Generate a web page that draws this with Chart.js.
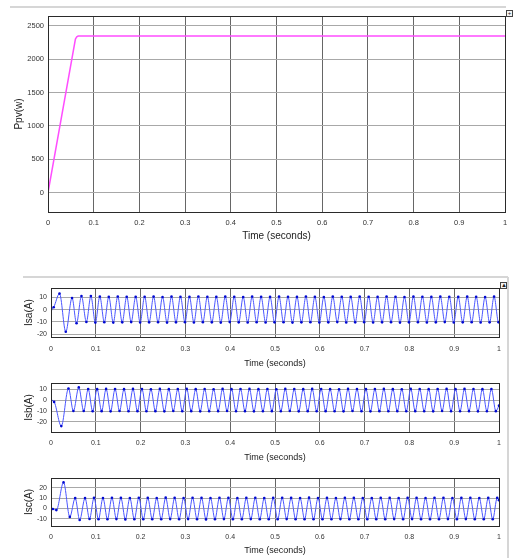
<!DOCTYPE html>
<html>
<head>
<meta charset="utf-8">
<script src="https://cdn.jsdelivr.net/npm/chart.js"></script>
<style>
    body { margin: 0; background: #fff; }
    #page { position: relative; width: 518px; height: 558px; overflow: hidden; background: #fff; }
    canvas { position: absolute; left: 0; }
    .rule { position: absolute; background: #d6d6d6; }
    .btn { position: absolute; width: 5px; height: 5px; border: 1px solid #444; background: #f4f4f4; font: 6px/5px 'Liberation Sans', Arial, sans-serif; text-align: center; color: #222; }
</style>
</head>
<body>
<div id="page">
    <div class="rule" style="left:10px;top:6px;width:496px;height:2px;"></div>
    <div class="btn" style="left:506px;top:10px;">+</div>
    <div class="rule" style="left:23px;top:276px;width:485px;height:2px;"></div>
    <div class="rule" style="left:507px;top:277px;width:2px;height:281px;"></div>
    <div class="btn" style="left:500px;top:282px;">&#9650;</div>

    <canvas id="ppvChart" width="518" height="250" style="top:0px"></canvas>
    <canvas id="isaChart" width="518" height="94" style="top:280px"></canvas>
    <canvas id="isbChart" width="518" height="92" style="top:374px"></canvas>
    <canvas id="iscChart" width="518" height="92" style="top:466px"></canvas>
</div>
<script>
// ---- data ----
const timeTicks = [0, 0.1, 0.2, 0.3, 0.4, 0.5, 0.6, 0.7, 0.8, 0.9, 1];
const timeLabels = ['0', '0.1', '0.2', '0.3', '0.4', '0.5', '0.6', '0.7', '0.8', '0.9', '1'];

const ppvTicks = [0, 500, 1000, 1500, 2000, 2500];
const isaTicks = [-20, -10, 0, 10];
const isbTicks = [-20, -10, 0, 10];
const iscTicks = [-10, 0, 10, 20];

// PV power (W)
const ppvTime = [0, 0.060, 0.063, 0.066, 1];
const ppvVals = [0, 2300, 2335, 2345, 2345];

// phase a current: start-up transient, then one peak / trough every 10 ms
const isaTime = [
    0, 0.006, 0.019, 0.033, 0.047, 0.057, 0.068, 0.079, 0.089, 0.099,
    0.109, 0.119, 0.129, 0.139, 0.149, 0.159, 0.169, 0.179, 0.189, 0.199,
    0.209, 0.219, 0.229, 0.239, 0.249, 0.259, 0.269, 0.279, 0.289, 0.299,
    0.309, 0.319, 0.329, 0.339, 0.349, 0.359, 0.369, 0.379, 0.389, 0.399,
    0.409, 0.419, 0.429, 0.439, 0.449, 0.459, 0.469, 0.479, 0.489, 0.499,
    0.509, 0.519, 0.529, 0.539, 0.549, 0.559, 0.569, 0.579, 0.589, 0.599,
    0.609, 0.619, 0.629, 0.639, 0.649, 0.659, 0.669, 0.679, 0.689, 0.699,
    0.709, 0.719, 0.729, 0.739, 0.749, 0.759, 0.769, 0.779, 0.789, 0.799,
    0.809, 0.819, 0.829, 0.839, 0.849, 0.859, 0.869, 0.879, 0.889, 0.899,
    0.909, 0.919, 0.929, 0.939, 0.949, 0.959, 0.969, 0.979, 0.989, 0.999,
    1
];
const isaVals = [
    0, 2, 13, -18, 9.5, -11, 11, -10, 11, -10.5,
    10.6, -10.2, 10.4, -10.5, 10.7, -10.3, 10.5, -10.1, 10.4, -10.4,
    10.5, -10.3, 10.6, -10.2, 10.3, -10.5, 10.6, -10.3, 10.5, -10.2,
    10.4, -10.4, 10.7, -10.2, 10.5, -10.3, 10.4, -10.5, 10.6, -10.1,
    10.5, -10.3, 10.3, -10.4, 10.6, -10.2, 10.5, -10.4, 10.4, -10.3,
    10.6, -10.2, 10.5, -10.5, 10.4, -10.3, 10.7, -10.2, 10.5, -10.4,
    10.3, -10.3, 10.6, -10.1, 10.5, -10.4, 10.4, -10.3, 10.6, -10.2,
    10.5, -10.4, 10.4, -10.3, 10.7, -10.2, 10.5, -10.5, 10.3, -10.3,
    10.6, -10.2, 10.5, -10.4, 10.4, -10.3, 10.6, -10.1, 10.5, -10.4,
    10.4, -10.3, 10.6, -10.2, 10.5, -10.4, 10.3, -10.3, 10.6, -10.2,
    -10
];

// phase b current
const isbTime = [
    0, 0.007, 0.023, 0.039, 0.050, 0.062, 0.073, 0.083, 0.093,
    0.103, 0.113, 0.123, 0.133, 0.143, 0.153, 0.163, 0.173, 0.183, 0.193,
    0.203, 0.213, 0.223, 0.233, 0.243, 0.253, 0.263, 0.273, 0.283, 0.293,
    0.303, 0.313, 0.323, 0.333, 0.343, 0.353, 0.363, 0.373, 0.383, 0.393,
    0.403, 0.413, 0.423, 0.433, 0.443, 0.453, 0.463, 0.473, 0.483, 0.493,
    0.503, 0.513, 0.523, 0.533, 0.543, 0.553, 0.563, 0.573, 0.583, 0.593,
    0.603, 0.613, 0.623, 0.633, 0.643, 0.653, 0.663, 0.673, 0.683, 0.693,
    0.703, 0.713, 0.723, 0.733, 0.743, 0.753, 0.763, 0.773, 0.783, 0.793,
    0.803, 0.813, 0.823, 0.833, 0.843, 0.853, 0.863, 0.873, 0.883, 0.893,
    0.903, 0.913, 0.923, 0.933, 0.943, 0.953, 0.963, 0.973, 0.983, 0.993,
    1
];
const isbVals = [
    0, -1.5, -24, 11, -10, 12, -10, 10.5, -10.2,
    10.4, -10.1, 10.6, -10.3, 10.5, -10.0, 10.4, -10.2, 10.6, -10.1,
    10.5, -10.2, 10.3, -10.1, 10.6, -10.3, 10.4, -10.0, 10.5, -10.2,
    10.6, -10.1, 10.4, -10.3, 10.5, -10.2, 10.3, -10.1, 10.6, -10.0,
    10.4, -10.2, 10.5, -10.1, 10.6, -10.3, 10.4, -10.2, 10.5, -10.1,
    10.3, -10.2, 10.6, -10.0, 10.5, -10.3, 10.4, -10.1, 10.6, -10.2,
    10.5, -10.1, 10.4, -10.2, 10.3, -10.3, 10.6, -10.0, 10.5, -10.2,
    10.4, -10.3, 10.5, -10.1, 10.6, -10.2, 10.4, -10.1, 10.3, -10.2,
    10.6, -10.1, 10.5, -10.2, 10.4, -10.3, 10.5, -10.0, 10.6, -10.2,
    10.4, -10.2, 10.6, -10.1, 10.5, -10.3, 10.4, -10.2, 10.5, -10.1,
    -5
];

// phase c current
const iscTime = [
    0, 0.004, 0.012, 0.028, 0.042, 0.054, 0.064, 0.076, 0.086, 0.096,
    0.106, 0.116, 0.126, 0.136, 0.146, 0.156, 0.166, 0.176, 0.186, 0.196,
    0.206, 0.216, 0.226, 0.236, 0.246, 0.256, 0.266, 0.276, 0.286, 0.296,
    0.306, 0.316, 0.326, 0.336, 0.346, 0.356, 0.366, 0.376, 0.386, 0.396,
    0.406, 0.416, 0.426, 0.436, 0.446, 0.456, 0.466, 0.476, 0.486, 0.496,
    0.506, 0.516, 0.526, 0.536, 0.546, 0.556, 0.566, 0.576, 0.586, 0.596,
    0.606, 0.616, 0.626, 0.636, 0.646, 0.656, 0.666, 0.676, 0.686, 0.696,
    0.706, 0.716, 0.726, 0.736, 0.746, 0.756, 0.766, 0.776, 0.786, 0.796,
    0.806, 0.816, 0.826, 0.836, 0.846, 0.856, 0.866, 0.876, 0.886, 0.896,
    0.906, 0.916, 0.926, 0.936, 0.946, 0.956, 0.966, 0.976, 0.986, 0.996,
    1
];
const iscVals = [
    0, -0.5, -1.5, 25, -8, 10, -11, 10, -10, 10.2,
    -10.3, 10.1, -10.2, 10.3, -10.1, 10.2, -10.4, 10.1, -10.2, 10.3,
    -10.2, 10.2, -10.3, 10.1, -10.2, 10.4, -10.1, 10.2, -10.3, 10.1,
    -10.1, 10.3, -10.2, 10.2, -10.4, 10.1, -10.2, 10.3, -10.1, 10.2,
    -10.3, 10.1, -10.2, 10.2, -10.1, 10.3, -10.2, 10.1, -10.3, 10.2,
    -10.2, 10.3, -10.1, 10.2, -10.3, 10.1, -10.2, 10.4, -10.2, 10.1,
    -10.3, 10.2, -10.2, 10.1, -10.1, 10.3, -10.3, 10.2, -10.2, 10.1,
    -10.2, 10.1, -10.3, 10.3, -10.2, 10.2, -10.1, 10.1, -10.3, 10.2,
    -10.1, 10.2, -10.2, 10.1, -10.3, 10.3, -10.2, 10.2, -10.1, 10.1,
    -10.3, 10.2, -10.1, 10.3, -10.2, 10.1, -10.2, 10.2, -10.3, 10.2,
    8
];

// ---- drawing ----
const FONT = "'Liberation Sans', Arial, sans-serif";

// box round the plot area, like the scope axes
const framePlugin = {
    id: 'frame',
    afterDraw(chart) {
        const a = chart.chartArea;
        const ctx = chart.ctx;
        ctx.save();
        ctx.strokeStyle = '#2a2a2a';
        ctx.lineWidth = 1;
        ctx.strokeRect(Math.round(a.left) + 0.5, Math.round(a.top) + 0.5,
            Math.round(a.right) - Math.round(a.left), Math.round(a.bottom) - Math.round(a.top));
        ctx.restore();
    }
};

function makeScope(id, cfg) {
    const points = cfg.time.map((t, i) => ({ x: t, y: cfg.values[i] }));
    return new Chart(document.getElementById(id), {
        type: 'line',
        data: {
            datasets: [{
                data: points,
                borderColor: cfg.color,
                borderWidth: cfg.lineWidth,
                pointRadius: cfg.dotRadius,
                pointBackgroundColor: cfg.dotColor,
                pointBorderWidth: 0,
                cubicInterpolationMode: cfg.smooth ? 'monotone' : 'default',
                tension: 0
            }]
        },
        options: {
            responsive: false,
            animation: false,
            events: [],
            layout: { padding: { top: cfg.padTop, right: cfg.padRight, left: 0, bottom: 0 } },
            plugins: { legend: { display: false }, tooltip: { enabled: false } },
            scales: {
                x: {
                    type: 'linear',
                    min: 0,
                    max: 1,
                    afterBuildTicks: s => { s.ticks = timeTicks.map(v => ({ value: v })); },
                    afterFit: s => { s.height = cfg.xHeight; },
                    border: { display: false },
                    grid: { color: '#666', lineWidth: 1, drawTicks: false },
                    ticks: {
                        autoSkip: false,
                        maxRotation: 0,
                        padding: cfg.xTickPad,
                        color: '#333',
                        font: { family: FONT, size: cfg.tickSize },
                        callback: (v, i) => timeLabels[i]
                    },
                    title: {
                        display: true,
                        text: 'Time (seconds)',
                        color: '#222',
                        font: { family: FONT, size: cfg.xTitleSize },
                        padding: { top: 0, bottom: cfg.xTitlePad }
                    }
                },
                y: {
                    min: cfg.yMin,
                    max: cfg.yMax,
                    afterBuildTicks: s => { s.ticks = cfg.yTicks.map(v => ({ value: v })); },
                    afterFit: s => { s.width = cfg.yWidth; },
                    border: { display: false },
                    grid: { color: '#a8a8a8', lineWidth: 1, drawTicks: false },
                    ticks: {
                        padding: 4,
                        color: '#333',
                        font: { family: FONT, size: cfg.tickSize },
                        callback: v => String(v)
                    },
                    title: {
                        display: true,
                        text: cfg.yTitle,
                        color: '#222',
                        font: { family: FONT, size: 10 },
                        padding: { top: cfg.yTitlePad, bottom: 0 }
                    }
                }
            }
        },
        plugins: [framePlugin]
    });
}

const scopeStyle = {
    color: '#4a55ff', lineWidth: 1, dotRadius: 1.3, dotColor: '#0008d0', smooth: true,
    padRight: 19, yWidth: 51, tickSize: 7, xTitleSize: 9, yTitlePad: 23.5
};

makeScope('ppvChart', {
    time: ppvTime, values: ppvVals, yTicks: ppvTicks, yMin: -290, yMax: 2645, yTitle: 'Ppv(w)',
    color: '#ff4dff', lineWidth: 1.5, dotRadius: 0, dotColor: '#ff4dff', smooth: false,
    padTop: 16, padRight: 13, yWidth: 48, xHeight: 38, xTickPad: 6, tickSize: 7.5,
    xTitleSize: 10, xTitlePad: 8, yTitlePad: 13
});

makeScope('isaChart', Object.assign({}, scopeStyle, {
    time: isaTime, values: isaVals, yTicks: isaTicks, yMin: -22.2, yMax: 17.4, yTitle: 'Isa(A)',
    padTop: 8, xHeight: 37, xTickPad: 8, xTitlePad: 4.6
}));

makeScope('isbChart', Object.assign({}, scopeStyle, {
    time: isbTime, values: isbVals, yTicks: isbTicks, yMin: -29.5, yMax: 16.1, yTitle: 'Isb(A)',
    padTop: 9, xHeight: 34, xTickPad: 6.7, xTitlePad: 2.6
}));

makeScope('iscChart', Object.assign({}, scopeStyle, {
    time: iscTime, values: iscVals, yTicks: iscTicks, yMin: -16.7, yMax: 29.2, yTitle: 'Isc(A)',
    padTop: 12, xHeight: 32, xTickPad: 7, xTitlePad: 1.9
}));
</script>
</body>
</html>
